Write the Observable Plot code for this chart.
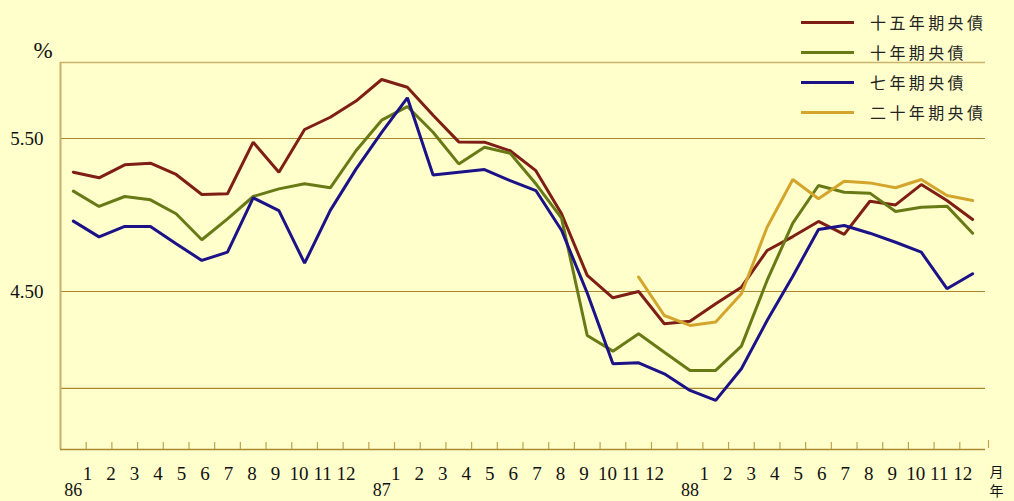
<!DOCTYPE html>
<html>
<head>
<meta charset="utf-8">
<script src="https://cdn.jsdelivr.net/npm/d3@7"></script>
<script src="https://cdn.jsdelivr.net/npm/@observablehq/plot@0.6"></script>
<style>
  html, body { margin: 0; padding: 0; background: #ffffcc; }
  #wrap { position: relative; width: 1014px; height: 501px; background: #ffffcc; overflow: hidden; }
  #legend { position: absolute; left: 801px; top: 7px; font-family: "Noto Sans CJK TC", sans-serif; font-size: 16px; letter-spacing: 3.4px; color: #222; }
  .row { display: flex; align-items: center; height: 30px; }
  .sw { width: 53px; height: 3px; margin-right: 16px; }
</style>
</head>
<body>
<div id="wrap"><div id="legend"></div></div>
<script>
// ---- data ----
const years = ["86", "87", "88"];
const monthLabels = ["1","2","3","4","5","6","7","8","9","10","11","12"];
const seriesNames = ["十五年期央債", "十年期央債", "七年期央債", "二十年期央債"];
const seriesColors = ["#7e1e14", "#687a16", "#1c1288", "#d4a52c"];

// 36 monthly values, 86/1 .. 88/12
const y15 = [5.28, 5.243, 5.328, 5.339, 5.265, 5.134, 5.139, 5.476, 5.28, 5.559, 5.639, 5.745,
             5.886, 5.835, 5.652, 5.478, 5.476, 5.42, 5.29, 5.008, 4.605, 4.459, 4.50, 4.289,
             4.305, 4.42, 4.528, 4.768, 4.859, 4.958, 4.873, 5.09, 5.066, 5.199, 5.095, 4.971];
const y10 = [5.156, 5.056, 5.121, 5.099, 5.008, 4.838, 4.975, 5.121, 5.171, 5.204, 5.178, 5.42,
             5.62, 5.709, 5.541, 5.334, 5.443, 5.404, 5.204, 4.98, 4.212, 4.110, 4.224, 4.103,
             3.984, 3.984, 4.143, 4.572, 4.947, 5.193, 5.149, 5.143, 5.023, 5.051, 5.058, 4.881];
const y7  = [4.96, 4.857, 4.925, 4.925, 4.812, 4.703, 4.757, 5.112, 5.029, 4.685, 5.03, 5.30,
             5.54, 5.766, 5.262, 5.28, 5.297, 5.225, 5.16, 4.90, 4.49, 4.027, 4.034, 3.962,
             3.853, 3.788, 3.995, 4.31, 4.60, 4.905, 4.931, 4.881, 4.822, 4.757, 4.518, 4.616];
const y20 = [null, null, null, null, null, null, null, null, null, null, null, null,
             null, null, null, null, null, null, null, null, null, null, 4.594, 4.343,
             4.278, 4.30, 4.485, 4.92, 5.232, 5.106, 5.221, 5.21, 5.178, 5.232, 5.127, 5.095];

const yTickValues = [5.5, 4.5];
const gridValues = [5.5, 4.5, 3.866];
const yDomain = [3.467, 5.997];

// ---- build tables ----
const allSeries = [y15, y10, y7, y20];
const toRows = (arr) => arr.map((v, i) => ({pos: i + 0.5, v})).filter(d => d.v != null);

const monthRows = [];
years.forEach((yr, yi) => monthLabels.forEach((m, mi) => {
  monthRows.push({pos: yi * 12 + 1.05 + mi * 0.915, text: m});
}));
const yearRows = years.map((yr, yi) => ({pos: yi * 12 + 0.5, text: yr}));
const boundaries = d3.range(1, 36);

const lineMarks = allSeries.map((arr, k) =>
  Plot.line(toRows(arr), {x: "pos", y: "v", stroke: seriesColors[k], strokeWidth: 3, strokeLinejoin: "miter", curve: "linear"})
);

const cjk = "'Noto Sans CJK TC', sans-serif";

const chart = Plot.plot({
  width: 1014,
  height: 501,
  marginLeft: 60,
  marginRight: 29,
  marginTop: 62,
  marginBottom: 52,
  x: {domain: [0, 36], axis: null},
  y: {domain: yDomain, axis: null},
  style: {background: "#ffffcc", fontFamily: "'Liberation Serif', 'DejaVu Serif', serif", fontSize: "19px", color: "#111", overflow: "visible"},
  marks: [
    Plot.ruleY([yDomain[1]], {stroke: "#cbb46e", strokeWidth: 1.5}),
    Plot.ruleY(gridValues, {stroke: "#a88a2c", strokeWidth: 1.2}),
    Plot.ruleX([0], {stroke: "#c9b06a", strokeWidth: 2}),
    Plot.ruleY([yDomain[0]], {stroke: "#a88a2c", strokeWidth: 1.5}),
    Plot.tickX(boundaries, {x: d => d, stroke: "#c0a24e", strokeWidth: 1.2, insetTop: 380}),
    Plot.tickX([36], {x: d => d, stroke: "#c0a24e", strokeWidth: 1.2, dx: 3, insetTop: 378, insetBottom: 1}),
    Plot.axisY({ticks: yTickValues, tickFormat: d => d.toFixed(2), tickSize: 0, tickPadding: 17, fontSize: 19, label: null}),
    Plot.text(["%"], {frameAnchor: "top-left", lineAnchor: "middle", text: d => d, dx: -27, dy: -12, fontSize: 23}),
    Plot.text(monthRows, {x: "pos", text: "text", frameAnchor: "bottom", lineAnchor: "middle", dy: 24, fontSize: 19}),
    Plot.text(yearRows, {x: "pos", text: "text", frameAnchor: "bottom", lineAnchor: "middle", dy: 41, fontSize: 18}),
    Plot.text(["月"], {frameAnchor: "bottom-right", lineAnchor: "middle", text: d => d, dx: 18, dy: 23, fontSize: 14, fontFamily: cjk}),
    Plot.text(["年"], {frameAnchor: "bottom-right", lineAnchor: "middle", text: d => d, dx: 18, dy: 42, fontSize: 14, fontFamily: cjk}),
    ...lineMarks
  ]
});

document.getElementById("wrap").prepend(chart);

const legend = document.getElementById("legend");
seriesNames.forEach((name, k) => {
  const row = document.createElement("div");
  row.className = "row";
  const sw = document.createElement("div");
  sw.className = "sw";
  sw.style.background = seriesColors[k];
  const t = document.createElement("span");
  t.textContent = name;
  row.appendChild(sw);
  row.appendChild(t);
  legend.appendChild(row);
});
</script>
</body>
</html>
